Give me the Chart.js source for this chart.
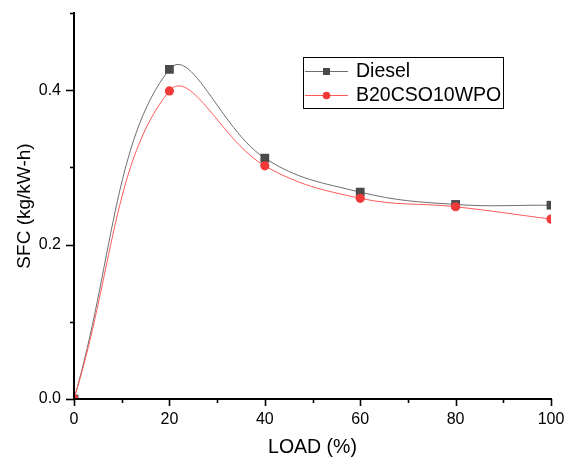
<!DOCTYPE html>
<html>
<head>
<meta charset="utf-8">
<script src="https://cdn.jsdelivr.net/npm/chart.js@4/dist/chart.umd.min.js"></script>
<style>
  html, body { margin: 0; padding: 0; background: #ffffff; }
  #wrap { width: 574px; height: 457px; }
</style>
</head>
<body>
<div id="wrap"><canvas id="c" width="574" height="457"></canvas></div>
<script>
// Engine load (%) and specific fuel consumption (kg/kW-h)
const loads = [0, 20, 40, 60, 80, 100];
const dieselSfc = [0, 0.427, 0.312, 0.268, 0.252, 0.251];
const blendSfc = [0, 0.399, 0.302, 0.260, 0.249, 0.233];
const seriesNames = ['Diesel', 'B20CSO10WPO'];
const xTitle = 'LOAD (%)';
const yTitle = 'SFC (kg/kW-h)';

const FONT = '"Liberation Sans", Arial, sans-serif';
const dieselColor = '#4a4a4a';
const dieselLine = '#6e6e6e';
const blendColor = '#f23a3a';
const blendLine = '#ff5a5a';

const toPoints = (ys) => loads.map((x, i) => ({ x: x, y: ys[i] }));

// Outward tick marks: long for labelled values, short for the ones between
const tickMarks = {
  id: 'tickMarks',
  afterDraw(chart) {
    const ctx = chart.ctx;
    const xs = chart.scales.x, ys = chart.scales.y;
    const area = chart.chartArea;
    ctx.save();
    ctx.strokeStyle = '#000';
    ctx.lineWidth = 1.6;
    xs.ticks.forEach(t => {
      const px = Math.round(xs.getPixelForValue(t.value)) + 0.5;
      const major = Math.round(t.value) % 20 === 0;
      ctx.beginPath();
      ctx.moveTo(px, area.bottom);
      ctx.lineTo(px, area.bottom + (major ? 7 : 4));
      ctx.stroke();
    });
    ys.ticks.forEach(t => {
      const py = Math.round(ys.getPixelForValue(t.value)) + 0.5;
      const major = Math.round(t.value * 10) % 2 === 0;
      ctx.beginPath();
      ctx.moveTo(area.left, py);
      ctx.lineTo(area.left - (major ? 8 : 4), py);
      ctx.stroke();
    });
    ctx.restore();
  }
};

// Boxed legend inside the plot, upper right
const boxLegend = {
  id: 'boxLegend',
  afterDraw(chart) {
    const ctx = chart.ctx;
    const x0 = 303.5, y0 = 57.5, w = 200, h = 51;
    ctx.save();
    ctx.fillStyle = '#fff';
    ctx.fillRect(x0, y0, w, h);
    ctx.strokeStyle = '#000';
    ctx.lineWidth = 1;
    ctx.strokeRect(x0, y0, w, h);
    const rows = [
      { name: chart.data.datasets[0].label, line: dieselLine, mark: dieselColor, shape: 'rect', y: 71 },
      { name: chart.data.datasets[1].label, line: blendLine, mark: blendColor, shape: 'circle', y: 95 }
    ];
    rows.forEach(r => {
      ctx.strokeStyle = r.line;
      ctx.lineWidth = 1;
      ctx.beginPath();
      ctx.moveTo(305, r.y + 0.5);
      ctx.lineTo(348, r.y + 0.5);
      ctx.stroke();
      ctx.fillStyle = r.mark;
      if (r.shape === 'rect') {
        ctx.fillRect(323, r.y - 3, 7, 7);
      } else {
        ctx.beginPath();
        ctx.arc(326.5, r.y + 0.5, 3.8, 0, Math.PI * 2);
        ctx.fill();
      }
      ctx.fillStyle = '#000';
      ctx.font = '19.5px ' + FONT;
      ctx.textAlign = 'left';
      ctx.textBaseline = 'middle';
      ctx.fillText(r.name, 356, r.y + 1);
    });
    ctx.restore();
  }
};

new Chart(document.getElementById('c'), {
  type: 'line',
  data: {
    datasets: [
      {
        label: seriesNames[0],
        data: toPoints(dieselSfc),
        borderColor: dieselLine,
        borderWidth: 1,
        backgroundColor: dieselColor,
        pointBackgroundColor: dieselColor,
        pointBorderColor: dieselColor,
        pointBorderWidth: 0,
        pointStyle: 'rect',
        pointRadius: 6.2,
        tension: 0.4,
        clip: 0,
        order: 2
      },
      {
        label: seriesNames[1],
        data: toPoints(blendSfc),
        borderColor: blendLine,
        borderWidth: 1,
        backgroundColor: blendColor,
        pointBackgroundColor: blendColor,
        pointBorderColor: blendColor,
        pointBorderWidth: 0,
        pointStyle: 'circle',
        pointRadius: 4.6,
        tension: 0.4,
        clip: 0,
        order: 1
      }
    ]
  },
  options: {
    responsive: false,
    animation: false,
    devicePixelRatio: 1,
    layout: { padding: { left: 0, right: 23, top: 13, bottom: 0 } },
    plugins: {
      legend: { display: false },
      tooltip: { enabled: false }
    },
    scales: {
      x: {
        type: 'linear',
        min: 0,
        max: 100,
        afterFit(scale) {
          scale.height = 58;
          scale.paddingLeft = 0;
          scale.paddingRight = 0;
        },
        grid: { display: true, drawOnChartArea: false, drawTicks: false },
        border: { display: true, color: '#000', width: 2, z: 1 },
        ticks: {
          stepSize: 10,
          autoSkip: false,
          maxRotation: 0,
          padding: 11,
          color: '#000',
          font: { family: FONT, size: 16 },
          callback: (v) => (Math.round(v) % 20 === 0 ? String(v) : '')
        },
        title: {
          display: true,
          text: xTitle,
          color: '#000',
          font: { family: FONT, size: 19.5, lineHeight: 1 },
          padding: { top: 0, bottom: 0 }
        }
      },
      y: {
        min: 0,
        max: 0.5,
        afterFit(scale) {
          scale.width = 74;
          scale.paddingTop = 0;
          scale.paddingBottom = 0;
        },
        grid: { display: true, drawOnChartArea: false, drawTicks: false },
        border: { display: true, color: '#000', width: 2, z: 1 },
        ticks: {
          stepSize: 0.1,
          autoSkip: false,
          padding: 13,
          color: '#000',
          font: { family: FONT, size: 16 },
          callback: (v) => (Math.round(v * 10) % 2 === 0 ? v.toFixed(1) : '')
        },
        title: {
          display: true,
          text: yTitle,
          color: '#000',
          font: { family: FONT, size: 19, lineHeight: 1.2 },
          padding: { top: 13, bottom: 0 }
        }
      }
    }
  },
  plugins: [tickMarks, boxLegend]
});
</script>
</body>
</html>
